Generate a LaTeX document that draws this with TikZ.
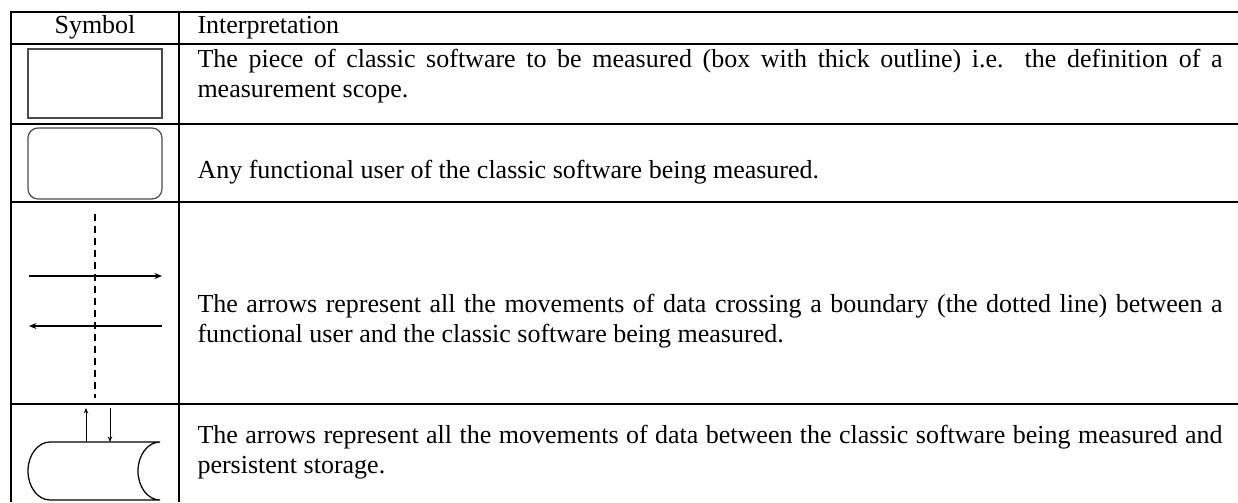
\documentclass[tikz,border=0pt]{standalone}
\usepackage{fontspec}
\setmainfont{Liberation Serif}
\usetikzlibrary{arrows.meta}
\begin{document}
\begin{tikzpicture}[x=0.4pt,y=-0.4pt,
  every node/.style={inner sep=0pt,font=\fontsize{10.4}{12}\selectfont},
  rule/.style={line width=0.5pt},
  sym/.style={draw=black!70,line width=0.5pt},
  interp/.style={anchor=base west,text width=410pt,align=justify},
  flow/.style={-{Stealth[length=3pt,width=2.4pt]},line width=0.6pt},
  io/.style={-{Stealth[length=2.2pt,width=1.8pt]},line width=0.4pt}]
\useasboundingbox (0,0) rectangle (1238,502);

% table rules
\draw[rule] (11,502)--(11,12)--(1238,12)
  (179,12)--(179,502)
  (11,44)--(1238,44)
  (11,124)--(1238,124)
  (11,202)--(1238,202)
  (11,404)--(1238,404);

% header
\node[anchor=base] (symhead) at (95,33) {Symbol};
\node[anchor=base west] (interphead) at (197,33) {Interpretation};

% measurement scope
\draw[sym] (28,49) rectangle (162,118);
\node[interp] (scope) at (197,67) {The piece of classic software to be measured (box with thick outline) i.e. the definition of a\linebreak measurement scope.};

% functional user
\draw[sym,rounded corners=4pt] (28,128) rectangle (162,199);
\node[anchor=base west] (user) at (197,178) {Any functional user of the classic software being measured.};

% boundary
\draw[line width=0.6pt,dash pattern=on 2.8pt off 2pt] (95,214)--(95,398);
\draw[flow] (29,276)--(162,276);
\draw[flow] (162,326)--(29,326);
\node[interp] (move) at (197,312) {The arrows represent all the movements of data crossing a boundary (the dotted line) between a\linebreak functional user and the classic software being measured.};

% persistent storage
\draw[io] (86,442)--(86,408);
\draw[io] (110,408)--(110,442);
\draw[line width=0.5pt] (160,442)--(50,442)
  arc[start angle=270,end angle=90,x radius=22,y radius=29]
  --(160,500)
  arc[start angle=90,end angle=270,x radius=22,y radius=29];
\node[interp] (store) at (197,443) {The arrows represent all the movements of data between the classic software being measured and\linebreak persistent storage.};
\end{tikzpicture}
\end{document}
